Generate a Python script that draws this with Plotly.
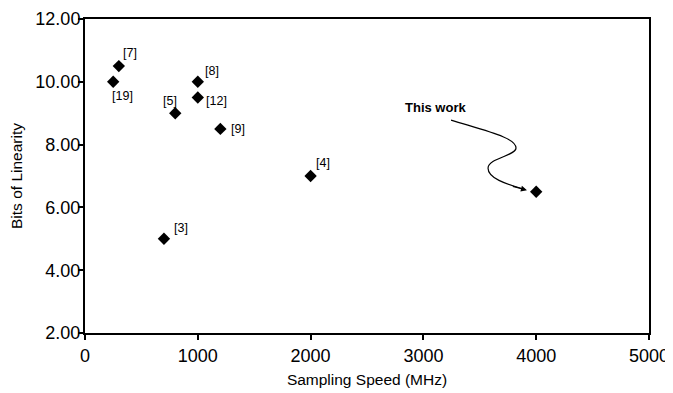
import plotly.graph_objects as go

speeds = [250, 300, 800, 1000, 1000, 1200, 2000, 700, 4000]
bits = [10.0, 10.5, 9.0, 10.0, 9.5, 8.5, 7.0, 5.0, 6.5]
refs = ["[19]", "[7]", "[5]", "[8]", "[12]", "[9]", "[4]", "[3]", ""]
x_ticks = [0, 1000, 2000, 3000, 4000, 5000]
y_ticks = [2, 4, 6, 8, 10, 12]

# label offsets (pixels) relative to each point
offs = [(9, 14), (11, -13), (-5, -12), (14, -11), (19, 3), (18, 0), (12, -13), (17, -11), (0, 0)]

FONT = "Liberation Sans, Arial, Helvetica"

fig = go.Figure()
fig.add_trace(go.Scatter(
    x=speeds, y=bits, mode="markers",
    marker=dict(symbol="diamond", size=9.5, color="black"),
    showlegend=False, hoverinfo="skip"))

anns = []
for x, y, t, (dx, dy) in zip(speeds, bits, refs, offs):
    if not t:
        continue
    anns.append(dict(x=x, y=y, xref="x", yref="y", text=t, showarrow=False,
                     xshift=dx, yshift=-dy,
                     font=dict(family=FONT, size=12.5, color="black")))

# "This work" label and curvy arrow
anns.append(dict(x=3107, y=9.17, xref="x", yref="y", text="<b>This work</b>", showarrow=False,
                 font=dict(family=FONT, size=13, color="black")))
anns.append(dict(x=3918, y=6.55, ax=3780, ay=6.68, xref="x", yref="y", axref="x", ayref="y",
                 text="", showarrow=True, arrowhead=2, arrowsize=1, arrowwidth=1.2,
                 arrowcolor="black"))
fig.update_layout(annotations=anns)

fig.add_shape(type="path", xref="x", yref="y",
              path="M 3245,8.78 C 3590,8.40 3821,8.21 3821,7.89 "
                   "C 3821,7.64 3573,7.57 3573,7.25 "
                   "C 3573,6.94 3723,6.75 3900,6.57",
              line=dict(color="black", width=1.2))

fig.update_xaxes(range=[0, 5000], tickvals=x_ticks, ticks="outside", ticklen=5,
                 tickwidth=1.5, tickcolor="black", automargin=False,
                 showline=True, linecolor="black", linewidth=2, mirror=True,
                 showgrid=False, zeroline=False,
                 tickfont=dict(family=FONT, size=18, color="black"),
                 title=dict(text="Sampling Speed (MHz)", standoff=10,
                            font=dict(family=FONT, size=15.5, color="black")))
fig.update_yaxes(range=[2, 12], tickvals=y_ticks, tickformat=".2f", ticks="outside", ticklen=5,
                 tickwidth=1.5, tickcolor="black", automargin=False, ticklabelstandoff=-6,
                 showline=True, linecolor="black", linewidth=2, mirror=True,
                 showgrid=False, zeroline=False,
                 tickfont=dict(family=FONT, size=18, color="black"),
                 title=dict(text="Bits of Linearity", standoff=10,
                            font=dict(family=FONT, size=15.5, color="black")))

fig.update_layout(width=673, height=393, margin=dict(l=77, r=32, t=11, b=68),
                  plot_bgcolor="white", paper_bgcolor="white")

fig.write_html("out.html")
